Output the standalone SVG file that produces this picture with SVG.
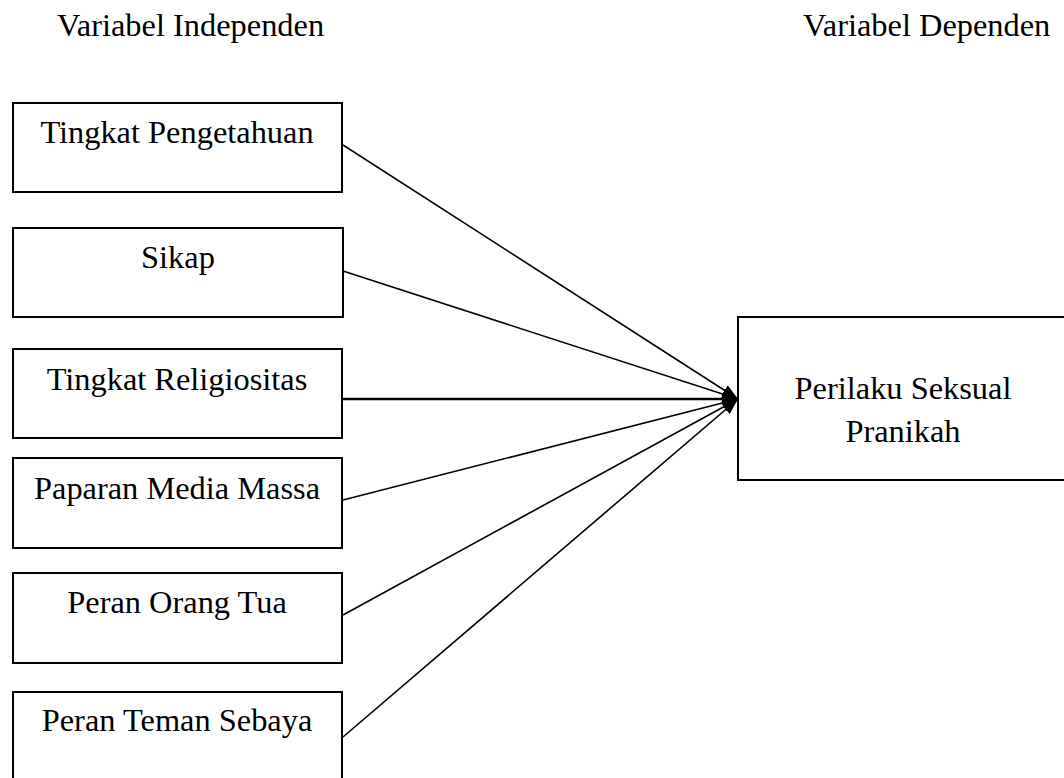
<svg xmlns="http://www.w3.org/2000/svg" width="1064" height="778" viewBox="0 0 1064 778">
  <style>
    .box { fill: #fff; stroke: #000; stroke-width: 2; }
    .t { font-family: "Liberation Serif", "Times New Roman", serif; font-size: 32.4px; fill: #000; }
    .c { text-anchor: middle; }
    .edge { stroke: #000; stroke-width: 1.6; fill: none; marker-end: url(#arr); }
  </style>
  <defs>
    <marker id="arr" viewBox="0 0 16 12" refX="16" refY="6" markerUnits="userSpaceOnUse" markerWidth="16" markerHeight="12" preserveAspectRatio="none" orient="auto">
      <path d="M0,0 L16,6 L0,12 z" fill="#000"/>
    </marker>
  </defs>
  <rect width="1064" height="778" fill="#fff"/>
  <text class="t" x="57" y="36">Variabel Independen</text>
  <text class="t" x="803" y="36">Variabel Dependen</text>

  <g id="connectors">
    <line class="edge" x1="343" y1="145" x2="738" y2="399"/>
    <line class="edge" x1="343" y1="271" x2="738" y2="399"/>
    <line class="edge" x1="343" y1="399" x2="738" y2="399" style="stroke-width:2.6"/>
    <line class="edge" x1="343" y1="500" x2="738" y2="399"/>
    <line class="edge" x1="343" y1="615" x2="738" y2="399"/>
    <line class="edge" x1="343" y1="737" x2="738" y2="399"/>
  </g>

  <g id="n1"><rect class="box" x="13" y="103" width="329" height="89"/><text class="t c" x="177" y="143">Tingkat Pengetahuan</text></g>
  <g id="n2"><rect class="box" x="13" y="228" width="330" height="89"/><text class="t c" x="178" y="268">Sikap</text></g>
  <g id="n3"><rect class="box" x="13" y="349" width="329" height="89"/><text class="t c" x="177" y="390">Tingkat Religiositas</text></g>
  <g id="n4"><rect class="box" x="13" y="458" width="329" height="90"/><text class="t c" x="177" y="499">Paparan Media Massa</text></g>
  <g id="n5"><rect class="box" x="13" y="573" width="329" height="90"/><text class="t c" x="177" y="613">Peran Orang Tua</text></g>
  <g id="n6"><rect class="box" x="13" y="692" width="329" height="100"/><text class="t c" x="177" y="731">Peran Teman Sebaya</text></g>
  <g id="n7"><rect class="box" x="738" y="317" width="340" height="163"/><text class="t c" x="903" y="399">Perilaku Seksual</text><text class="t c" x="903" y="442">Pranikah</text></g>
</svg>
